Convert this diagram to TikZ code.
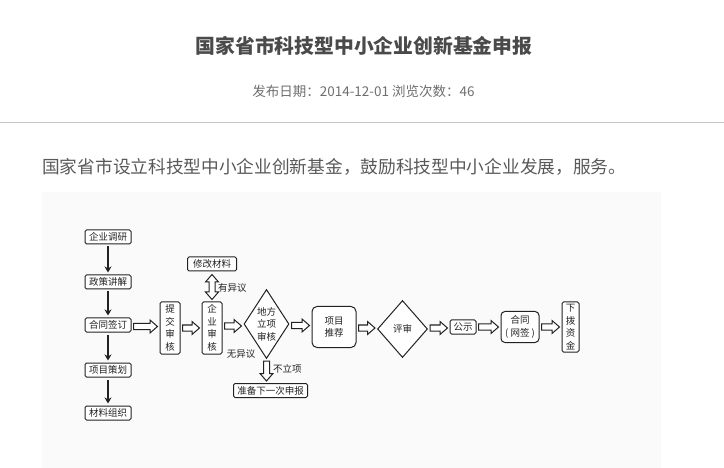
\documentclass[tikz,border=0pt]{standalone}
\usepackage{fontspec}
\setmainfont{Noto Sans CJK SC}
\usepackage{tikz}
\usetikzlibrary{calc,shapes.geometric,arrows.meta}
\definecolor{titlegray}{HTML}{4A4A4A}
\definecolor{dategray}{HTML}{6E6E6E}
\definecolor{textgray}{HTML}{595959}
\definecolor{rulegray}{HTML}{C4C4C4}
\definecolor{panelgray}{HTML}{FAFAFA}
\definecolor{linegray}{HTML}{222222}
% hollow block arrows between two nodes
\newcommand{\rarrow}[2]{%
  \draw[hollow] let \p1=($(#1.east)+(2pt,0)$), \p2=($(#2.west)+(-2pt,0)$),
    \p3=($(\p1)!0.5!(\p2)$) in
    (\x1,\y3+3pt) -- (\x2-7.5pt,\y3+3pt) -- (\x2-7.5pt,\y3+6.5pt) -- (\x2,\y3)
    -- (\x2-7.5pt,\y3-6.5pt) -- (\x2-7.5pt,\y3-3pt) -- (\x1,\y3-3pt) -- cycle;}
\newcommand{\darrow}[2]{%
  \draw[hollow] let \p1=($(#1.south)+(0,-2pt)$), \p2=($(#2.north)+(0,2pt)$) in
    (\x1-3pt,\y1) -- (\x1-3pt,\y2+7.5pt) -- (\x1-6.5pt,\y2+7.5pt) -- (\x1,\y2)
    -- (\x1+6.5pt,\y2+7.5pt) -- (\x1+3pt,\y2+7.5pt) -- (\x1+3pt,\y1) -- cycle;}
\newcommand{\udarrow}[2]{%
  \draw[hollow] let \p1=($(#1.south)+(0,-3pt)$), \p2=($(#2.north)+(0,2pt)$) in
    (\x1,\y1) -- (\x1+6.5pt,\y1-7.5pt) -- (\x1+3pt,\y1-7.5pt) -- (\x1+3pt,\y2+7.5pt)
    -- (\x1+6.5pt,\y2+7.5pt) -- (\x1,\y2) -- (\x1-6.5pt,\y2+7.5pt) -- (\x1-3pt,\y2+7.5pt)
    -- (\x1-3pt,\y1-7.5pt) -- (\x1-6.5pt,\y1-7.5pt) -- cycle;}

\begin{document}
\begin{tikzpicture}[x=1pt,y=-1pt,
    box/.style={draw=linegray,line width=1pt,rounded corners=1.5pt,fill=white,
      text=linegray,font=\fontsize{9.5}{12.5}\selectfont,inner sep=0pt,align=center},
    dmd/.style={box,diamond,rounded corners=0pt,aspect=0.65},
    lbl/.style={text=linegray,font=\fontsize{9.5}{11}\selectfont,inner sep=0pt},
    hollow/.style={draw=linegray,line width=1pt,fill=white,line join=miter},
    thinarrow/.style={draw=linegray,line width=1.1pt,-{Stealth[length=6pt,width=7pt]},
      shorten <=2pt,shorten >=2pt}]
		\useasboundingbox (0,0) rectangle (724,468);
		% page header
		\node[text=titlegray,font=\fontsize{19.8}{22}\selectfont\bfseries] (title) at (364,46) {国家省市科技型中小企业创新基金申报};
		\node[text=dategray,font=\fontsize{13.5}{15}\selectfont] (date) at (363.5,91) {发布日期：2014-12-01 浏览次数：46};
		\draw[rulegray,line width=1pt] (0,123) -- (724,123);
		\node[text=textgray,font=\fontsize{17.7}{20}\selectfont,anchor=west,inner sep=0pt] (intro) at (42,167) {国家省市设立科技型中小企业创新基金，鼓励科技型中小企业发展，服务。};
		\fill[panelgray] (42,192) rectangle (661,468);
		% left column
		\foreach \name/\y/\txt in {dy/237/企业调研,zc/282/政策讲解,qd/325/合同签订,xc/370/项目策划,cl/413/材料组织} {
				\node[box,minimum width=46pt,minimum height=14pt] (\name) at (108,\y) {\txt};
			}
		\foreach \a/\b in {dy/zc,zc/qd,qd/xc,xc/cl} {
				\draw[thinarrow] (\a.south) -- (\b.north);
			}
		% main row
		\node[box,minimum width=20pt,minimum height=52pt] (tj) at (170,328) {提\\交\\审\\核};
		\node[box,minimum width=20pt,minimum height=52pt] (qs) at (212,328) {企\\业\\审\\核};
		\node[box,minimum width=49pt,minimum height=14pt] (xg) at (212,264) {修改材料};
		\node[dmd,minimum width=45pt,minimum height=69pt] (df) at (266.5,324) {地方\\立项\\审核};
		\node[box,minimum width=74pt,minimum height=14pt] (zb) at (270.5,390.5) {准备下一次申报};
		\node[box,rounded corners=5pt,minimum width=44pt,minimum height=41pt] (xm) at (334,327) {项目\\推荐};
		\node[dmd,minimum width=50pt,minimum height=57pt] (ps) at (402.5,329) {评审};
		\node[box,minimum width=26pt,minimum height=14pt] (gs) at (463,327) {公示};
		\node[box,rounded corners=4pt,minimum width=38pt,minimum height=31pt] (wq) at (520,327) {合同\\( 网签 )};
		\node[box,minimum width=17pt,minimum height=50pt] (xb) at (570.5,327) {下\\拨\\资\\金};
		% labels
		\node[lbl,anchor=west] (yyy) at (218,288) {有异议};
		\node[lbl] (wyy) at (241,354) {无异议};
		\node[lbl,anchor=west] (blx) at (273,369) {不立项};
		% hollow arrows
		\rarrow{qd}{tj}
		\rarrow{tj}{qs}
		\rarrow{qs}{df}
		\rarrow{df}{xm}
		\rarrow{xm}{ps}
		\rarrow{ps}{gs}
		\rarrow{gs}{wq}
		\rarrow{wq}{xb}
		\udarrow{xg}{qs}
		\darrow{df}{zb}
	\end{tikzpicture}
\end{document}
